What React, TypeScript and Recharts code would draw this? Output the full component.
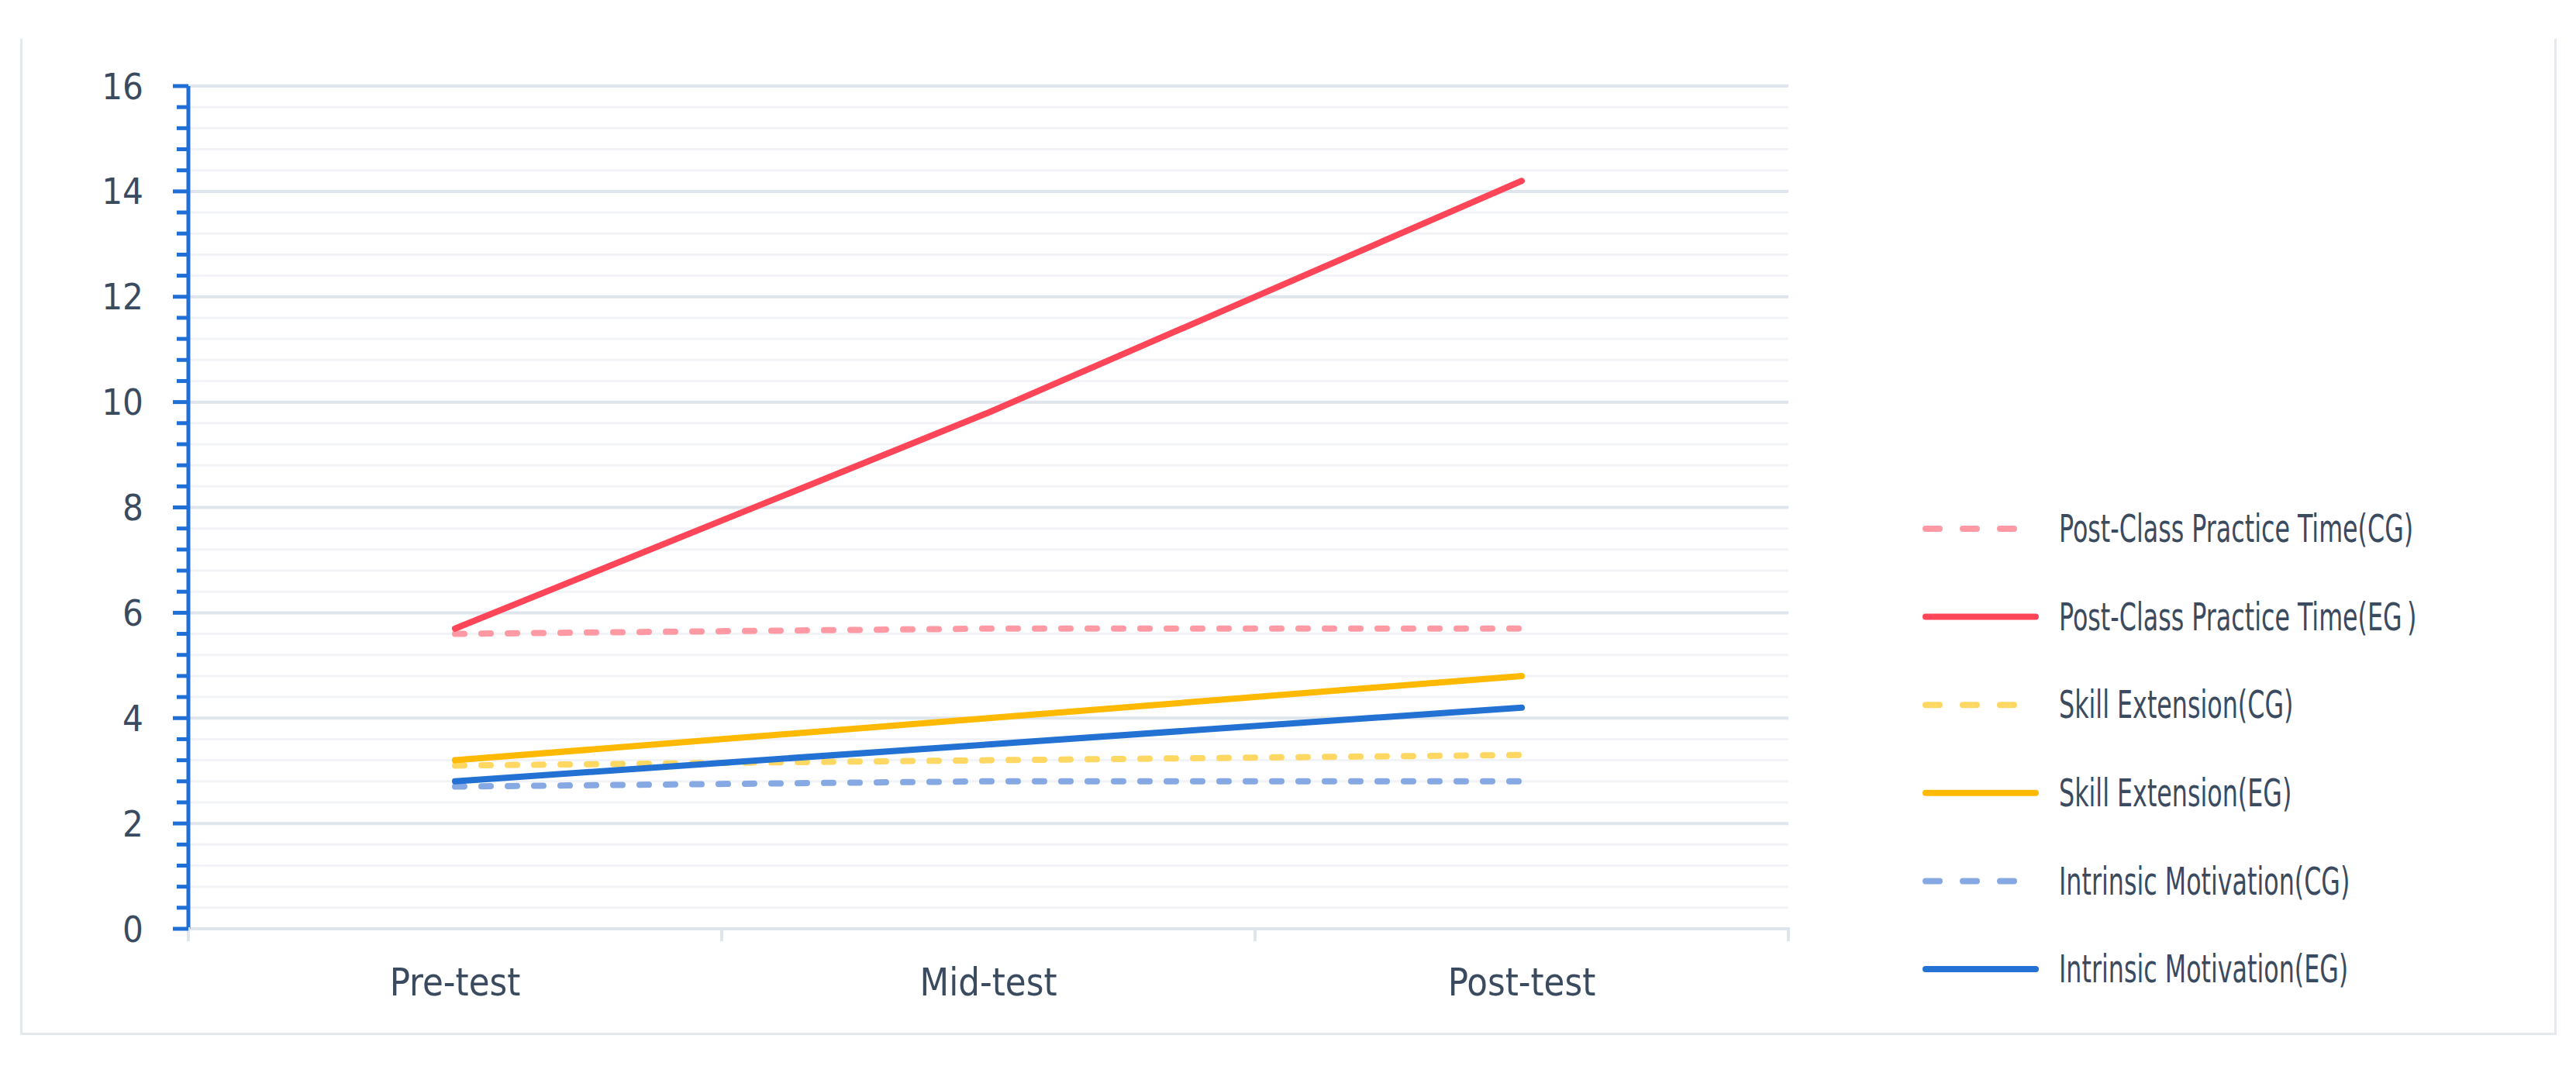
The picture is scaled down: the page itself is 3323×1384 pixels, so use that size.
import React from 'react';
import { LineChart, Line, XAxis, YAxis, CartesianGrid } from 'recharts';

const categories = ['Pre-test', 'Mid-test', 'Post-test'];
const practiceCG = [5.6, 5.7, 5.7];
const practiceEG = [5.7, 9.8, 14.2];
const skillCG = [3.1, 3.2, 3.3];
const skillEG = [3.2, 4.0, 4.8];
const motivationCG = [2.7, 2.8, 2.8];
const motivationEG = [2.8, 3.5, 4.2];

const yMajorTicks = [0, 2, 4, 6, 8, 10, 12, 14, 16];
const yMinorTicks = Array.from({ length: 41 }, (_, i) => Math.round(i * 4) / 10);
const xTicks = [0, 0.5, 1, 1.5, 2, 2.5, 3];

const series = [
  { key: 'practiceCG', name: 'Post-Class Practice Time(CG)', color: '#ff9aa4', dashed: true, values: practiceCG },
  { key: 'practiceEG', name: 'Post-Class Practice Time(EG\u2009)', color: '#ff4558', dashed: false, values: practiceEG },
  { key: 'skillCG', name: 'Skill Extension(CG)', color: '#ffd864', dashed: true, values: skillCG },
  { key: 'skillEG', name: 'Skill Extension(EG)', color: '#ffb900', dashed: false, values: skillEG },
  { key: 'motivationCG', name: 'Intrinsic Motivation(CG)', color: '#87a9e3', dashed: true, values: motivationCG },
  { key: 'motivationEG', name: 'Intrinsic Motivation(EG)', color: '#2271d3', dashed: false, values: motivationEG },
];

const data = categories.map((name, i) => {
  const row: any = { name, pos: i + 0.5 };
  series.forEach((s) => {
    row[s.key] = s.values[i];
  });
  return row;
});

const FONT = "'Liberation Sans Narrow', 'DejaVu Sans Condensed', 'Noto Sans', sans-serif";
const TEXT = '#3b4b5f';
const GRID_MINOR = '#f1f3f6';
const GRID_MAJOR = '#dfe5ec';
const AXIS_BLUE = '#1f6fd6';

// squeezed text, the original uses a condensed face
const NarrowText = ({ x, y, anchor, size, squeeze = 1, children }: any) => (
  <g transform={`translate(${x}, ${y}) scale(${squeeze}, 1)`}>
    <text x={0} y={0} textAnchor={anchor} dominantBaseline="central" fill={TEXT} fontSize={size} fontFamily={FONT}>
      {children}
    </text>
  </g>
);

const YTick = (props: any) => {
  const { x, y, payload } = props;
  const major = yMajorTicks.includes(payload.value);
  return (
    <g>
      <line x1={x - (major ? 20 : 15)} x2={x} y1={y} y2={y} stroke={AXIS_BLUE} strokeWidth={5} />
      {major && <NarrowText x={x - 58} y={y} anchor="end" size={47}>{payload.value}</NarrowText>}
    </g>
  );
};

const XTick = (props: any) => {
  const { x, y, payload } = props;
  const v = payload.value;
  if (Number.isInteger(v)) {
    return <line x1={x} x2={x} y1={y - 2} y2={y + 16} stroke={GRID_MAJOR} strokeWidth={4} />;
  }
  return (
    <NarrowText x={x} y={y + 69} anchor="middle" size={50} squeeze={0.97}>
      {categories[Math.floor(v)]}
    </NarrowText>
  );
};

const GridLine = (props: any) => {
  const { x1, x2, y1, y2, index } = props;
  const major = index % 5 === 0;
  return (
    <line
      x1={x1}
      x2={x2}
      y1={y1}
      y2={y2}
      stroke={major ? GRID_MAJOR : GRID_MINOR}
      strokeWidth={major ? 4 : 3}
    />
  );
};

const LegendBox = () => (
  <svg width={800} height={700} style={{ position: 'absolute', left: 2470, top: 630 }}>
    {series.map((s, i) => {
      const cy = 52 + i * 113.6;
      return (
        <g key={s.key}>
          <line
            x1={14}
            x2={s.dashed ? 136 : 156}
            y1={cy}
            y2={cy}
            stroke={s.color}
            strokeWidth={8}
            strokeLinecap="round"
            strokeDasharray={s.dashed ? '18 30' : undefined}
          />
          <NarrowText x={186} y={cy} anchor="start" size={49} squeeze={0.72}>{s.name}</NarrowText>
        </g>
      );
    })}
  </svg>
);

export default function App() {
  return (
    <div style={{ position: 'absolute', left: 0, top: 0, width: 3323, height: 1384, background: '#ffffff' }}>
      <div
        style={{
          position: 'absolute',
          left: 26,
          top: 50,
          width: 3266,
          height: 1282,
          borderLeft: '3px solid #e4e9ef',
          borderRight: '3px solid #e4e9ef',
          borderBottom: '3px solid #e4e9ef',
        }}
      />
      <div style={{ position: 'absolute', left: 0, top: 0 }}>
        <LineChart width={3323} height={1384} data={data} margin={{ top: 111, right: 1016, bottom: 185, left: 242 }}>
          <CartesianGrid vertical={false} horizontal={<GridLine />} />
          <XAxis
            dataKey="pos"
            type="number"
            domain={[0, 3]}
            ticks={xTicks}
            interval={0}
            height={1}
            tickSize={0}
            tickMargin={0}
            tickLine={false}
            axisLine={{ stroke: GRID_MAJOR, strokeWidth: 4 }}
            tick={<XTick />}
          />
          <YAxis
            type="number"
            domain={[0, 16]}
            ticks={yMinorTicks}
            interval={0}
            width={1}
            tickSize={0}
            tickMargin={0}
            tickLine={false}
            axisLine={{ stroke: AXIS_BLUE, strokeWidth: 5 }}
            tick={<YTick />}
          />
          {series.map((s) => (
            <Line
              key={s.key}
              dataKey={s.key}
              name={s.name}
              stroke={s.color}
              strokeWidth={8}
              strokeLinecap="round"
              strokeDasharray={s.dashed ? '12 22' : undefined}
              dot={false}
              activeDot={false}
              isAnimationActive={false}
            />
          ))}
        </LineChart>
      </div>
      <LegendBox />
    </div>
  );
}
